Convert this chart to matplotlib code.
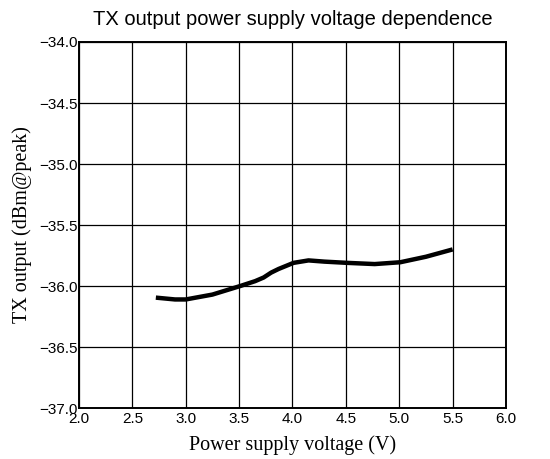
import matplotlib
matplotlib.use("Agg")
import matplotlib.pyplot as plt

# Data
voltage = [2.72, 2.9, 3.0, 3.25, 3.51, 3.65, 3.73, 3.8, 3.87, 4.01, 4.15, 4.3, 4.51, 4.77, 5.01,
           5.25, 5.5]
tx_output = [-36.095, -36.11, -36.11, -36.07, -36.0, -35.96, -35.93, -35.89, -35.86, -35.81,
             -35.79, -35.80, -35.81, -35.82, -35.805, -35.76, -35.70]

x_ticks = [2.0, 2.5, 3.0, 3.5, 4.0, 4.5, 5.0, 5.5, 6.0]
y_ticks = [-37.0, -36.5, -36.0, -35.5, -35.0, -34.5, -34.0]

fig = plt.figure(figsize=(5.5, 4.59), dpi=100)
ax = fig.add_axes([0.1436, 0.111, 0.7764, 0.7975])

ax.plot(voltage, tx_output, color="black", linewidth=3.2, solid_capstyle="butt",
        solid_joinstyle="round")

ax.set_xlim(2.0, 6.0)
ax.set_ylim(-37.0, -34.0)
ax.set_xticks(x_ticks)
ax.set_yticks(y_ticks)
ax.set_xticklabels(["%.1f" % v for v in x_ticks], family="Liberation Sans")
ax.set_yticklabels(["\u2212%.1f" % abs(v) for v in y_ticks], family="Liberation Sans")
ax.tick_params(length=0, labelsize=11, pad=1)
ax.tick_params(axis="x", pad=2.5)
ax.grid(True, color="black", linewidth=0.9)

for s in ax.spines.values():
    s.set_linewidth(1.4)

ax.set_title("TX output power supply voltage dependence", family="Liberation Sans",
             fontsize=14.5, pad=12)
ax.set_xlabel("Power supply voltage (V)", family="Liberation Serif", fontsize=14.5, labelpad=7)
ax.set_ylabel("TX output (dBm@peak)", family="Liberation Serif", fontsize=14.5, labelpad=5)

plt.savefig("out.png", dpi=100)
